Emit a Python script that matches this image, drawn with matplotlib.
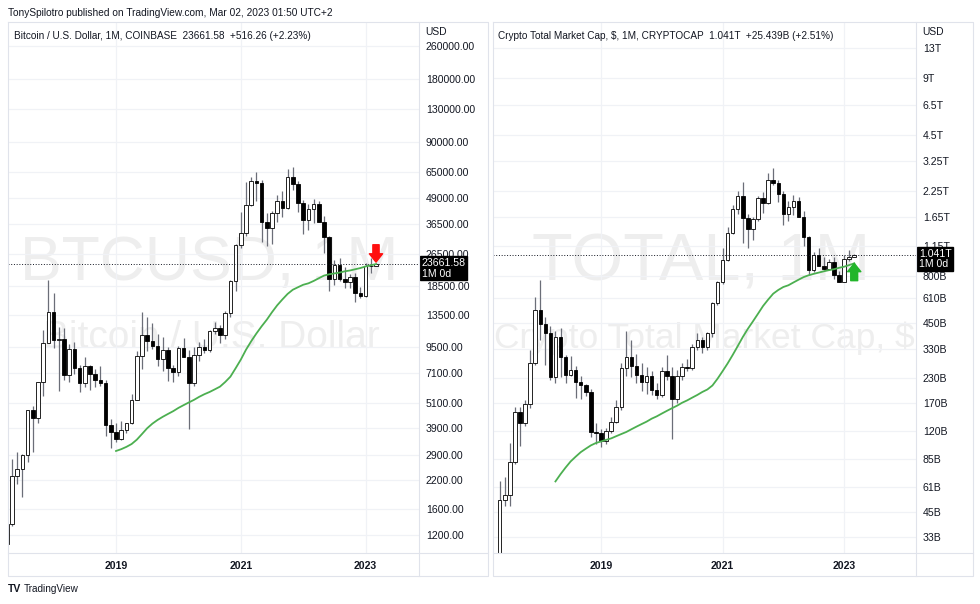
import matplotlib
matplotlib.use("Agg")
import matplotlib.pyplot as plt
import matplotlib.transforms as mtransforms
from matplotlib.lines import Line2D
from matplotlib.ticker import NullLocator
import numpy as np

W, H = 980, 604

# ---------------------------------------------------------------------------
# Data: monthly candles Apr 2017 .. Mar 2023 (month 0 = Jan 2019)
# ---------------------------------------------------------------------------
months = np.arange(-21, 51)

btc_open = [1080, 1348, 2286, 2480, 2875, 4735, 4340, 6450, 9950,
            13880, 10220, 10330, 6930, 9240, 7500, 6390, 7730, 7030, 6630, 6370, 4020,
            3740, 3440, 3820, 4100, 5320, 8570, 10820, 10080, 9590, 8290, 9150, 7560,
            7190, 9350, 8530, 6410, 8640, 9450, 9140, 11350, 11660, 10780, 13800, 19700,
            28990, 33110, 45240, 58800, 57700, 37300, 35040, 41460, 47100, 43820, 61300, 57000,
            46200, 38480, 43160, 45510, 37630, 31800, 19940, 23300, 20050, 19420, 20490, 17160,
            16540, 23130, 23145.32]
btc_high = [1350, 2760, 3000, 2930, 4750, 4980, 6470, 11400, 19890,
            17250, 11780, 11700, 9760, 9990, 7770, 8500, 7760, 7410, 7680, 6600, 4310,
            4100, 4200, 4120, 5630, 9100, 13880, 13200, 12330, 10950, 10540, 9510, 7750,
            9580, 10500, 9190, 9460, 10070, 10400, 11450, 12480, 12070, 14100, 19900, 29300,
            41950, 58350, 61790, 64900, 59500, 41330, 42400, 50500, 52950, 67000, 69000, 59100,
            47990, 45800, 48240, 47440, 39990, 31980, 24680, 25210, 22800, 21090, 21480, 18390,
            23960, 25250, 23880]
btc_low = [1060, 1330, 2100, 1830, 2680, 2970, 4120, 5500, 10400,
           9400, 5870, 6600, 6430, 7050, 5780, 6080, 5880, 6120, 6200, 3550, 3130,
           3350, 3390, 3690, 4060, 5320, 7450, 9070, 9320, 7700, 7300, 6520, 6430,
           6870, 8450, 3850, 6160, 8100, 8900, 8970, 10990, 9880, 10370, 13200, 17600,
           28130, 32300, 44950, 47000, 30000, 28800, 29280, 37330, 39600, 43300, 53250, 42000,
           32950, 34300, 37150, 37580, 26700, 17600, 18780, 19550, 18150, 18200, 15480, 16260,
           16500, 21400, 23020]
btc_close = [1348, 2286, 2480, 2875, 4735, 4340, 6450, 9950, 13880,
             10220, 10330, 6930, 9240, 7500, 6390, 7730, 7030, 6630, 6370, 4020, 3740,
             3440, 3820, 4100, 5320, 8570, 10820, 10080, 9590, 8290, 9150, 7560, 7190,
             9350, 8530, 6410, 8640, 9450, 9140, 11350, 11660, 10780, 13800, 19700, 28990,
             33110, 45240, 58800, 57700, 37300, 35040, 41460, 47100, 43820, 61300, 57000, 46200,
             38480, 43160, 45510, 37630, 31800, 19940, 23300, 20050, 19420, 20490, 17160, 16540,
             23130, 23145.32, 23661.58]

# 50-month moving average, Jan 2019 .. Mar 2023
btc_ma_months = np.arange(0, 51)
btc_ma = [3020, 3080, 3160, 3260, 3420, 3640, 3880, 4080, 4250, 4400, 4540, 4680,
          4850, 5000, 5150, 5300, 5480, 5640, 5780, 5950, 6130, 6450, 6840, 7500,
          8250, 9200, 10100, 11000, 11900, 12800, 13900, 15000, 16000, 17000, 17800, 18300,
          18800, 19100, 19600, 20200, 20800, 21100, 21300, 21500, 21800, 22000, 22300, 22600,
          23000, 23300, 23600]

# Crypto total market cap, billions USD
total_open = [20, 25, 52, 55, 82, 152, 133, 167, 276,
              528, 448, 397, 233, 382, 297, 239, 254, 220, 210, 193, 119,
              117, 106, 120, 135, 162, 259, 296, 268, 240, 218, 235, 198,
              188, 250, 237, 178, 237, 262, 259, 337, 366, 337, 397, 574,
              746, 973, 1349, 1809, 2136, 1621, 1417, 1601, 2085, 1946, 2589, 2500,
              2173, 1708, 1855, 2010, 1653, 1284, 862, 1035, 905, 875, 950, 810,
              747, 990, 1015.6]
total_high = [26, 65, 69, 104, 162, 161, 176, 324, 622,
              766, 487, 432, 410, 423, 305, 300, 265, 235, 215, 200, 133,
              124, 125, 143, 176, 278, 410, 366, 309, 276, 264, 250, 216,
              264, 304, 262, 255, 275, 291, 350, 397, 381, 405, 580, 750,
              1124, 1452, 1900, 2250, 2536, 1711, 1653, 2136, 2230, 2813, 2985, 2600,
              2250, 2000, 2160, 2100, 1780, 1310, 1070, 1130, 1010, 990, 1010, 850,
              1040, 1101, 1052]
total_low = [19, 24, 48, 48, 80, 100, 128, 160, 270,
             366, 270, 224, 216, 233, 216, 235, 180, 178, 185, 112, 103,
             99, 103, 118, 132, 155, 235, 233, 216, 196, 190, 186, 178,
             182, 225, 109, 170, 225, 250, 253, 325, 311, 325, 380, 560,
             722, 960, 1330, 1700, 1193, 1124, 1244, 1560, 1720, 1930, 2440, 1990,
             1500, 1560, 1680, 1640, 1160, 810, 840, 900, 860, 860, 770, 740,
             745, 960, 1010]
total_close = [25, 52, 55, 82, 152, 133, 167, 276, 528,
               448, 397, 233, 382, 297, 239, 254, 220, 210, 193, 119, 117,
               106, 120, 135, 162, 259, 296, 268, 240, 218, 235, 198, 188,
               250, 237, 178, 237, 262, 259, 337, 366, 337, 397, 574, 746,
               973, 1349, 1809, 2136, 1621, 1417, 1601, 2085, 1946, 2589, 2500, 2173,
               1708, 1855, 2010, 1653, 1284, 862, 1035, 905, 875, 950, 810, 747,
               990, 1015.6, 1041]

total_ma_months = np.arange(-9, 51)
total_ma = [65, 71, 77, 83, 88, 93, 97, 101, 104,
            106, 108, 110, 113, 116, 119, 123, 127, 131, 135, 140, 144,
            149, 154, 159, 164, 170, 175, 181, 187, 194, 200, 210, 228,
            250, 275, 305, 340, 380, 420, 460, 505, 555, 600, 645, 675,
            700, 715, 740, 765, 790, 808, 822, 835, 848, 860, 870, 885,
            897, 915, 935]

btc_ticks = [260000, 180000, 130000, 90000, 65000, 49000, 36500, 26500, 18500,
             13500, 9500, 7100, 5100, 3900, 2900, 2200, 1600, 1200]
total_ticks = [13000, 9000, 6500, 4500, 3250, 2250, 1650, 1150, 800, 610,
               450, 330, 230, 170, 120, 85, 61, 45, 33]
total_tick_labels = ["13T", "9T", "6.5T", "4.5T", "3.25T", "2.25T", "1.65T", "1.15T",
                     "800B", "610B", "450B", "330B", "230B", "170B", "120B", "85B",
                     "61B", "45B", "33B"]
year_ticks = [0, 24, 48]
year_labels = ["2019", "2021", "2023"]

# ---------------------------------------------------------------------------
# Styling
# ---------------------------------------------------------------------------
plt.rcParams["font.family"] = ["Liberation Sans", "DejaVu Sans"]
TEXT = "#131722"
BORDER = "#e0e3eb"
GRID = "#f0f2f6"
WICK = "#6b6e78"
WATERMARK = "#eeeeee"
MA_GREEN = "#4caf50"


def fig_rect(x0, y0, x1, y1):
    return [x0 / W, 1 - y1 / H, (x1 - x0) / W, (y1 - y0) / H]


def fig_line(fig, xs, ys, **kw):
    fig.add_artist(Line2D([x / W for x in xs], [1 - y / H for y in ys],
                          transform=fig.transFigure, **kw))


def fig_text(fig, x, y, s, **kw):
    fig.text(x / W, 1 - y / H, s, **kw)


def draw_candles(ax, x, o, h, l, c):
    x, o, h, l, c = map(np.asarray, (x, o, h, l, c))
    up = c >= o
    ax.vlines(x, l, h, color=WICK, lw=0.9, zorder=2)
    ax.bar(x[up], (c - o)[up], bottom=o[up], width=0.68, color="white",
           edgecolor="black", lw=0.6, zorder=3)
    ax.bar(x[~up], (o - c)[~up], bottom=c[~up], width=0.68, color="black",
           edgecolor="black", lw=0.6, zorder=3)


def setup_axes(ax, xlim, ylim, ticks, labels):
    ax.set_yscale("log")
    ax.set_xlim(*xlim)
    ax.set_ylim(*ylim)
    ax.yaxis.tick_right()
    ax.set_yticks(ticks, labels)
    ax.yaxis.set_minor_locator(NullLocator())
    ax.set_xticks(year_ticks, year_labels)
    ax.xaxis.set_minor_locator(NullLocator())
    ax.tick_params(axis="y", length=0, pad=5, labelsize=7.6, labelcolor=TEXT)
    ax.tick_params(axis="x", length=0, pad=5.5, labelsize=7.6, labelcolor=TEXT)
    for lab in ax.get_xticklabels():
        lab.set_fontweight("bold")
    ax.grid(True, color=GRID, lw=0.9, zorder=0)
    for sp in ax.spines.values():
        sp.set_visible(False)


def price_tag(ax, price, label):
    trans = mtransforms.blended_transform_factory(ax.transAxes, ax.transData)
    ax.axhline(price, color=TEXT, lw=0.7, ls=(0, (1, 1.8)), zorder=4)
    ax.annotate(label, xy=(1, price), xycoords=trans, xytext=(2, 4.3),
                textcoords="offset points", ha="left", va="top", color="white",
                fontsize=7.6, linespacing=1.1, annotation_clip=False, zorder=10,
                bbox=dict(boxstyle="square,pad=0.15", fc="black", ec="black"))


fig = plt.figure(figsize=(W / 100, H / 100), dpi=100)

# ---------------------------------------------------------------------------
# Left panel: BTCUSD
# ---------------------------------------------------------------------------
ax1 = fig.add_axes(fig_rect(8, 22, 419, 553))
setup_axes(ax1, (-20.77, 58.27), (983, 338580), btc_ticks,
           [f"{t:.2f}" for t in btc_ticks])
ax1.text(0.49, 0.545, "BTCUSD, 1M", transform=ax1.transAxes, ha="center", va="center",
         fontsize=45, color=WATERMARK, zorder=0.5, clip_on=True)
ax1.text(0.495, 0.405, "Bitcoin / U.S. Dollar", transform=ax1.transAxes, ha="center",
         va="center", fontsize=28, color=WATERMARK, zorder=0.5, clip_on=True)
draw_candles(ax1, months, btc_open, btc_high, btc_low, btc_close)
ax1.plot(btc_ma_months, btc_ma, color=MA_GREEN, lw=1.3, zorder=5)
price_tag(ax1, btc_close[-1], f"{btc_close[-1]:.2f}\n1M 0d")
ax1.annotate("", xy=(months[-1], btc_high[-1] * 1.01), xytext=(0, 12.5),
             textcoords="offset points", zorder=6,
             arrowprops=dict(arrowstyle="simple,head_length=0.6,head_width=0.95,tail_width=0.45",
                             mutation_scale=10, color="#ff1010", shrinkA=0, shrinkB=0))

# ---------------------------------------------------------------------------
# Right panel: TOTAL
# ---------------------------------------------------------------------------
ax2 = fig.add_axes(fig_rect(492.5, 22, 916, 553))
setup_axes(ax2, (-21.43, 62.2), (27.1, 17863), total_ticks, total_tick_labels)
ax2.text(0.492, 0.545, "TOTAL, 1M", transform=ax2.transAxes, ha="center", va="center",
         fontsize=48, color=WATERMARK, zorder=0.5, clip_on=True)
ax2.text(0.5, 0.405, "Crypto Total Market Cap, $", transform=ax2.transAxes, ha="center",
         va="center", fontsize=25.5, color=WATERMARK, zorder=0.5, clip_on=True)
draw_candles(ax2, months, total_open, total_high, total_low, total_close)
ax2.plot(total_ma_months, total_ma, color=MA_GREEN, lw=1.3, zorder=5)
price_tag(ax2, total_close[-1], "1.041T\n1M 0d")
ax2.annotate("", xy=(months[-1], total_ma[-1]), xytext=(0, -12.5),
             textcoords="offset points", zorder=6,
             arrowprops=dict(arrowstyle="simple,head_length=0.6,head_width=0.95,tail_width=0.5",
                             mutation_scale=10, color="#22b52a", shrinkA=0, shrinkB=0))

# ---------------------------------------------------------------------------
# Frames, legends and header
# ---------------------------------------------------------------------------
for x0, xs, x1 in [(7.5, 419, 487.5), (492.5, 916, 972.5)]:
    fig_line(fig, [x0, x1, x1, x0, x0], [22, 22, 576, 576, 22], color=BORDER, lw=0.8)
    fig_line(fig, [xs, xs], [22, 576], color=BORDER, lw=0.8)
    fig_line(fig, [x0, x1], [553, 553], color=BORDER, lw=0.8)
    fig_text(fig, xs + 6, 32, "USD", fontsize=7.4, color=TEXT, va="center")

fig_text(fig, 8, 13, "TonySpilotro published on TradingView.com, Mar 02, 2023 01:50 UTC+2",
         fontsize=7.3, color=TEXT, va="center")
fig_text(fig, 14, 36, "Bitcoin / U.S. Dollar, 1M, COINBASE  23661.58  +516.26 (+2.23%)",
         fontsize=7.2, color=TEXT, va="center")
fig_text(fig, 498, 36, "Crypto Total Market Cap, $, 1M, CRYPTOCAP  1.041T  +25.439B (+2.51%)",
         fontsize=7.2, color=TEXT, va="center")
fig_text(fig, 8, 589, "TV", fontsize=7.5, weight="bold", color=TEXT, va="center")
fig_text(fig, 24, 589, "TradingView", fontsize=7.2, color=TEXT, va="center")

fig.savefig("out.png", dpi=100)
